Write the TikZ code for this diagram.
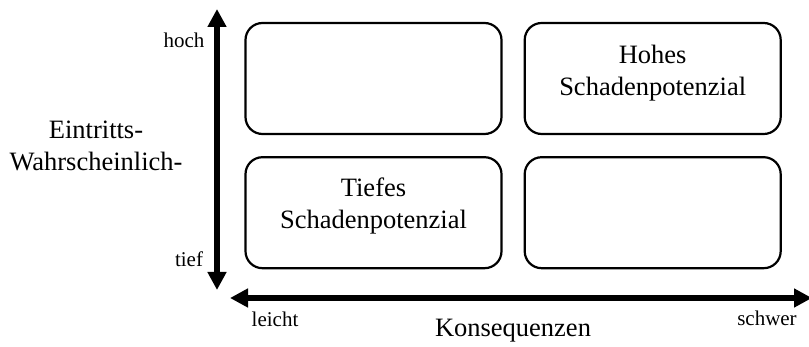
\documentclass[tikz,border=0pt]{standalone}
\usepackage{fontspec}
\setmainfont{Liberation Serif}
\usetikzlibrary{arrows.meta,positioning}

\begin{document}
\begin{tikzpicture}[x=1pt,y=-1pt,
      mybox/.style={
         draw=black,
         rounded corners=17pt,
         line width=2.2pt,
         minimum width=256pt,
         minimum height=111pt,
         inner sep=0pt},
      boxtext/.style={
         align=center,
         font=\fontsize{26.5}{32}\selectfont},
      bigtext/.style={font=\fontsize{26.5}{32}\selectfont},
      smalltext/.style={font=\fontsize{21}{25}\selectfont},
      myarrow/.style={{Triangle[length=18pt,width=18pt]}-{Triangle[length=18pt,width=18pt]},
         line width=6.5pt},
      node distance=21pt and 21pt
      ]
      \useasboundingbox (0,0) rectangle (809,347);

      % Felder
      \node[mybox] (hl) at (373.5,78.5) {};
      \node[mybox, right =of hl] (hs) {};
      \node[mybox, below =of hl] (tl) {};
      \node[mybox, right =of tl] (ts) {};

      \node[boxtext] at ([yshift=5pt]hs.center) {Hohes\\Schadenpotenzial};
      \node[boxtext] at ([yshift=7pt]tl.center) {Tiefes\\Schadenpotenzial};

      % Achsen
      \coordinate (ytop) at (217,9);
      \coordinate (ybot) at (217,290);
      \coordinate (xleft) at (230,298);
      \coordinate (xright) at (812,298);
      \draw[myarrow] (ybot) -- (ytop);
      \draw[myarrow] (xleft) -- (xright);

      \node[smalltext] (hoch) at (184,40) {hoch};
      \node[smalltext] (tief) at (189,259) {tief};
      \node[smalltext] (leicht) at (275,319) {leicht};
      \node[smalltext] (schwer) at (767,318) {schwer};

      \node[bigtext] (kons) at (513,331) {Konsequenzen};
      \node[bigtext, align=center] (ew) at (96,146) {Eintritts-\\Wahrscheinlich-};
\end{tikzpicture}
\end{document}
